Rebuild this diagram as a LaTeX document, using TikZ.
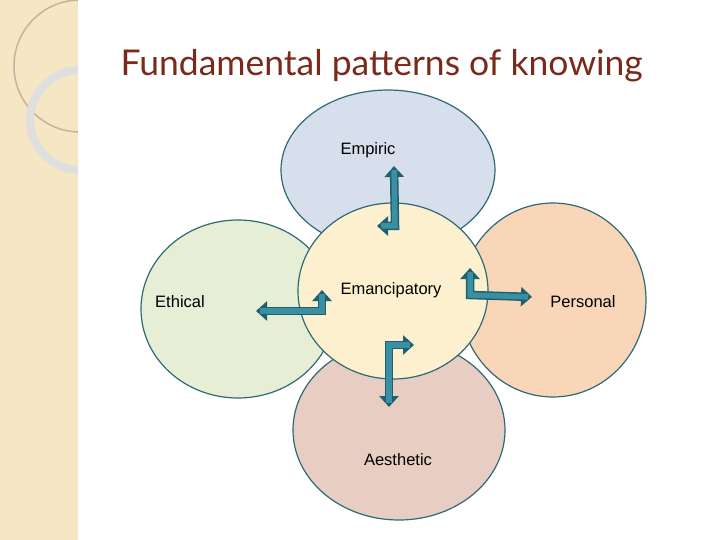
\documentclass[tikz,border=0pt]{standalone}
\usepackage{fontspec}
\setmainfont{Liberation Sans}
\newfontfamily\titlefont{Lato}
\usetikzlibrary{arrows.meta}
\definecolor{rim}{HTML}{2E6A74}
\definecolor{arrowblue}{HTML}{3A8FA3}
\definecolor{arrowrim}{HTML}{1E5F70}
\definecolor{empiricfill}{HTML}{D6DFEB}
\definecolor{ethicalfill}{HTML}{E6EFD6}
\definecolor{personalfill}{HTML}{FAD6B8}
\definecolor{aestheticfill}{HTML}{E8CDC2}
\definecolor{centrefill}{HTML}{FDF0CE}
\definecolor{stripfill}{HTML}{F5E6C4}
\definecolor{titlered}{HTML}{7A2A1A}
\tikzset{
  petal/.style={ellipse, draw=rim, line width=1.2pt, inner sep=0pt},
  bentarrow/.style={draw=arrowrim, line width=8.5pt,
    {Triangle[length=11pt,width=19pt]}-{Triangle[length=11pt,width=19pt]}},
  bentinner/.style={draw=arrowblue, line width=5.5pt, shorten <=4pt, shorten >=4pt}
}
\usetikzlibrary{shapes.geometric}
\begin{document}
\begin{tikzpicture}[x=1pt,y=-1pt]
		\useasboundingbox (0,0) rectangle (720,540);
		\fill[white] (0,0) rectangle (720,540);
		% side strip
		\fill[stripfill] (0,0) rectangle (78,540);
		\begin{scope}
		 	\clip (0,0) rectangle (78,540);
		 	\draw[gray!50!brown!60, line width=1.5pt] (80,66) circle (66);
		 	\draw[gray!25, line width=8pt] (80,120) circle (50);
		\end{scope}
		\node[font=\titlefont\fontsize{35.5}{40}\selectfont, text=titlered, anchor=west] (title) at (117,66) {Fundamental patterns of knowing};
		% petals
		\node[petal, fill=empiricfill, minimum width=214pt, minimum height=160pt] (empiric) at (388,170) {};
		\node[petal, fill=ethicalfill, minimum width=194pt, minimum height=178pt] (ethical) at (238,309) {};
		\node[petal, fill=personalfill, minimum width=186pt, minimum height=194pt] (personal) at (553,300) {};
		\node[petal, fill=aestheticfill, minimum width=212pt, minimum height=180pt] (aesthetic) at (399,430) {};
		\node[petal, fill=centrefill, minimum width=190pt, minimum height=176pt] (centre) at (393,291) {};
		\foreach \x/\y/\name/\txt in {
			368/150/lblempiric/Empiric,
			180/302/lblethical/Ethical,
			583/302/lblpersonal/Personal,
			398/460/lblaesthetic/Aesthetic,
			391/290/lblcentre/Emancipatory
		}{
			\node[font=\fontsize{16.5}{19}\selectfont] (\name) at (\x,\y) {\txt};
		}
		% bent arrows
		\foreach \a/\b/\c/\ax/\ay/\bx/\by/\cx/\cy in {
			eA/eB/eC/377/226/395/226/394/166,
			pA/pB/pC/470/268/470/295/532/297,
			lA/lB/lC/256/311/322/311/322/290,
			dA/dB/dC/389/407/389/345/414/345
		}{
			\coordinate (\a) at (\ax,\ay);
			\coordinate (\b) at (\bx,\by);
			\coordinate (\c) at (\cx,\cy);
			\draw[bentarrow] (\a) -- (\b) -- (\c);
			\draw[bentinner] (\a) -- (\b) -- (\c);
		}
\end{tikzpicture}
\end{document}
